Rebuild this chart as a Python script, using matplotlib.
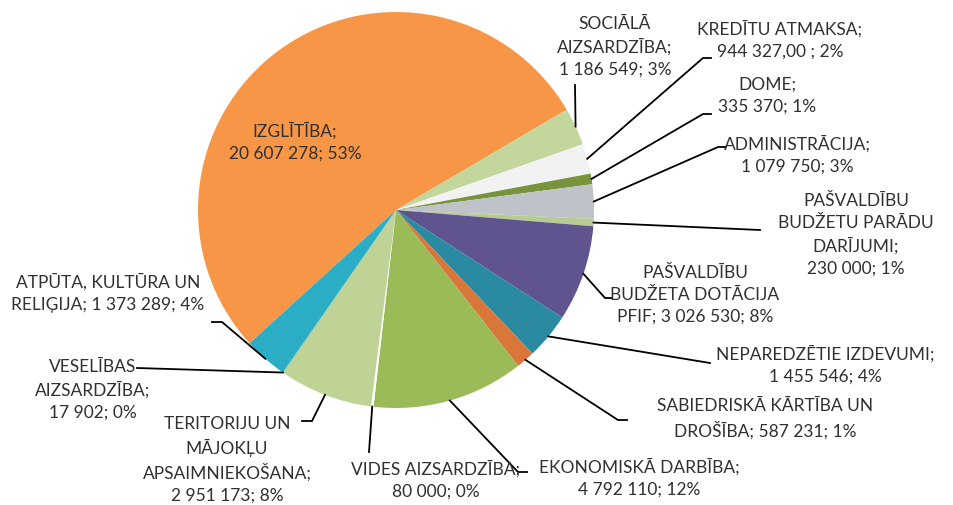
import numpy as np
import matplotlib
matplotlib.use("Agg")
import matplotlib.pyplot as plt

# Budget categories, clockwise from the big orange slice
labels = [
    "IZGLĪTĪBA;\n20 607 278; 53%",
    "SOCIĀLĀ\nAIZSARDZĪBA;\n1 186 549; 3%",
    "KREDĪTU ATMAKSA;\n944 327,00 ; 2%",
    "DOME;\n335 370; 1%",
    "ADMINISTRĀCIJA;\n1 079 750; 3%",
    "PAŠVALDĪBU\nBUDŽETU PARĀDU\nDARĪJUMI;\n230 000; 1%",
    "PAŠVALDĪBU\nBUDŽETA DOTĀCIJA\nPFIF; 3 026 530; 8%",
    "NEPAREDZĒTIE IZDEVUMI;\n1 455 546; 4%",
    "SABIEDRISKĀ KĀRTĪBA UN\nDROŠĪBA; 587 231; 1%",
    "EKONOMISKĀ DARBĪBA;\n4 792 110; 12%",
    "VIDES AIZSARDZĪBA;\n80 000; 0%",
    "TERITORIJU UN\nMĀJOKĻU\nAPSAIMNIEKOŠANA;\n2 951 173; 8%",
    "VESELĪBAS\nAIZSARDZĪBA;\n17 902; 0%",
    "ATPŪTA, KULTŪRA UN\nRELIĢIJA; 1 373 289; 4%",
]
values = [20607278, 1186549, 944327, 335370, 1079750, 230000, 3026530,
          1455546, 587231, 4792110, 80000, 2951173, 17902, 1373289]
colors = ["#F79646", "#C3D69B", "#F2F2F2", "#77933C", "#BFC3C9", "#B7CC93",
          "#60548F", "#2A8AA1", "#D9773A", "#9BBB59", "#FFFFFF", "#BFD396",
          "#4BACC6", "#2BADC6"]

# label centre (pixels) and leader path end points (pixels), None = label sits on slice
label_pos = [(295, 142), (615, 47), (780, 40), (767, 96), (797, 155), (856, 235),
             (695, 295), (825, 365), (765, 419), (639, 478), (436, 480),
             (227, 460), (93, 390), (108, 293)]
leaders = [None, [(575, 85)], [(703, 58), (711, 58)], [(703, 114), (711, 114)],
           [(718, 147), (726, 147)], [(760, 230)], [(605, 298), (612, 298)],
           [(710, 363)], [(618, 420), (627, 420)], [(518, 472), (527, 472)],
           [(369, 452)], [(312, 421), (302, 421)], [(137, 368)],
           [(222, 322), (212, 322)]]

center = (396, 210)
radius = 198

fig = plt.figure(figsize=(9.54, 5.05), dpi=100)
ax = fig.add_axes([0, 0, 1, 1])

# y axis is flipped below, so counterclock in data = clockwise on screen
wedges, _ = ax.pie(values, colors=colors, center=center, radius=radius,
                   startangle=-222.3, counterclock=True, frame=True,
                   wedgeprops=dict(linewidth=0))
ax.set_xlim(0, 954)
ax.set_ylim(505, 0)  # pixel coordinates, y down
ax.set_aspect("equal")
ax.axis("off")

txt = dict(fontsize=12.5, color="#303030", ha="center", va="center",
           linespacing=1.45, family=["Lato", "DejaVu Sans"])

for w, lab, pos, lead in zip(wedges, labels, label_pos, leaders):
    ax.text(pos[0], pos[1], lab, **txt)
    if lead is None:
        continue
    mid = np.deg2rad((w.theta1 + w.theta2) / 2)
    x0 = center[0] + radius * np.cos(mid)
    y0 = center[1] + radius * np.sin(mid)
    xs = [x0] + [p[0] for p in lead]
    ys = [y0] + [p[1] for p in lead]
    ax.plot(xs, ys, color="black", lw=1.3)

fig.savefig("out.png", dpi=100)
